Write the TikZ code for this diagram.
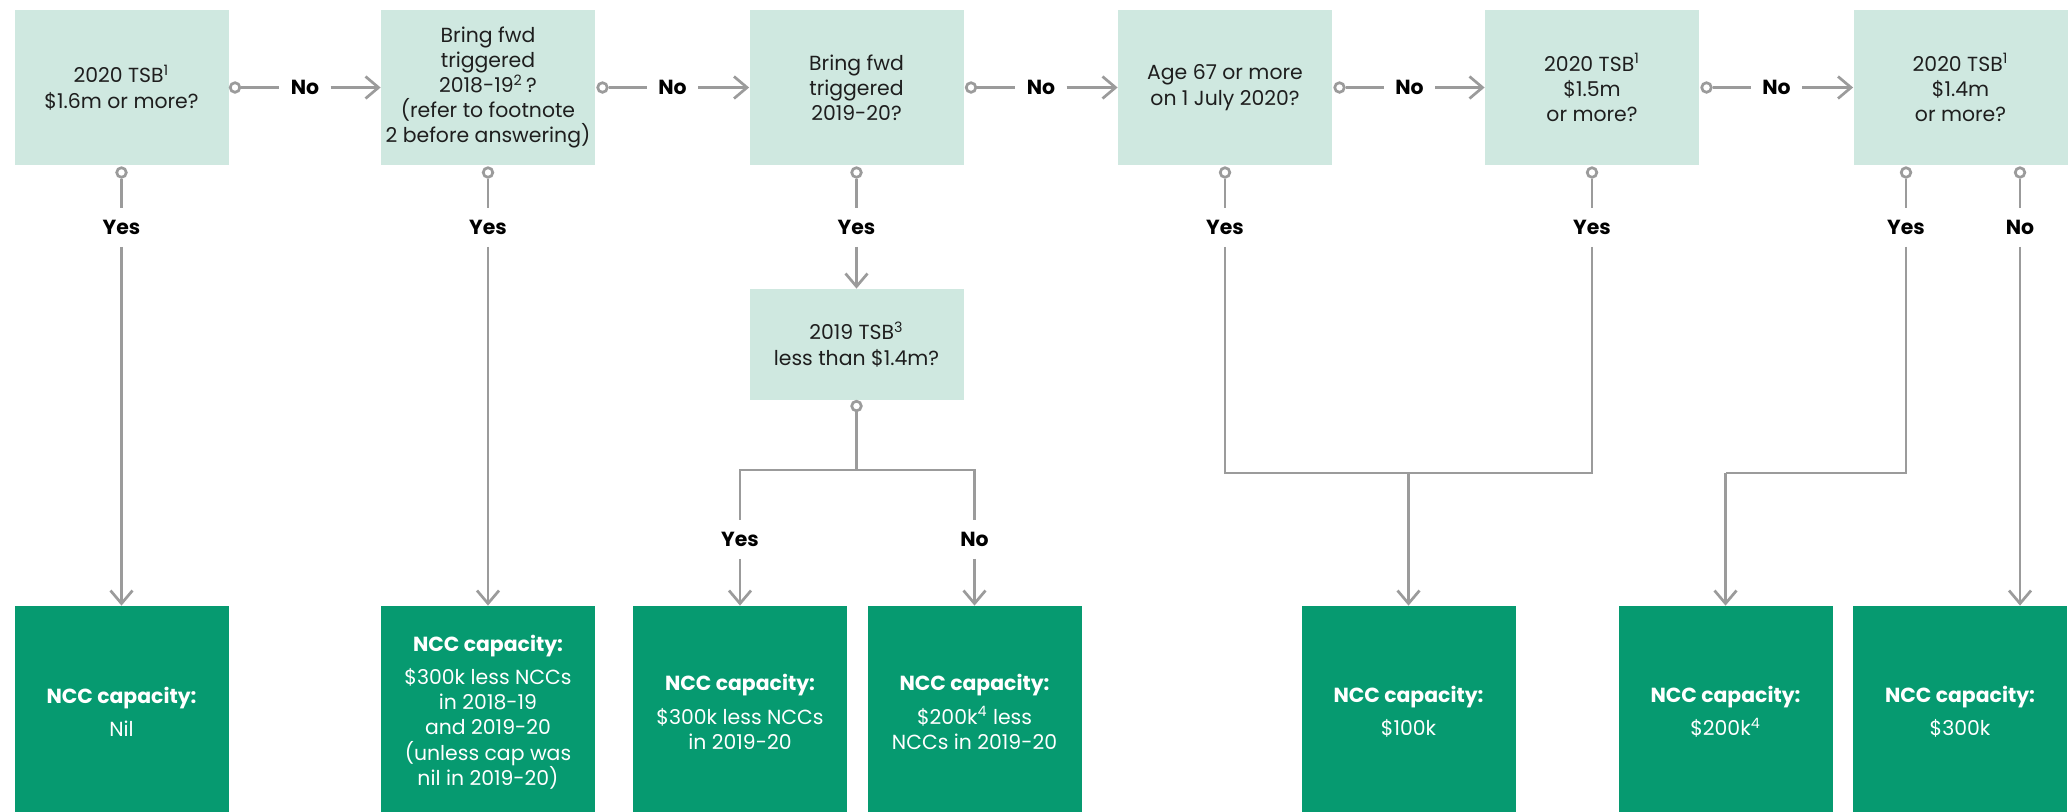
\documentclass[tikz,border=0pt]{standalone}
\usepackage{fontspec}
\setmainfont{Poppins}
\usetikzlibrary{arrows.meta}
\definecolor{lightbox}{HTML}{CFE8E0}
\definecolor{darkbox}{HTML}{069A70}
\definecolor{lineg}{HTML}{9B9B9B}
\definecolor{txt}{HTML}{1E1E1E}
\begin{document}
\begin{tikzpicture}[x=0.5pt,y=-0.5pt,
  qbox/.style={fill=lightbox, minimum width=107pt, minimum height=77.5pt, inner sep=0pt, align=center, text=txt, font=\fontsize{10.2pt}{12.6pt}\selectfont},
  abox/.style={fill=darkbox, minimum width=107pt, minimum height=106pt, inner sep=0pt, align=center, text=white, font=\fontsize{10.2pt}{12.6pt}\selectfont},
  dot/.style={circle, draw=lineg, fill=white, line width=1.35pt, minimum size=4.8pt, inner sep=0pt},
  lbl/.style={font=\bfseries\fontsize{10.2pt}{12pt}\selectfont, text=black, inner xsep=5.5pt, inner ysep=0pt, text height=7.2pt, text depth=0pt, minimum height=19pt},
  wire/.style={draw=lineg, line width=1.35pt},
  arr/.style={-{Straight Barb[length=6.5pt,width=11pt]}}]
\fill[white] (0,0) rectangle (2072,811);
\useasboundingbox (0,0) rectangle (2072,811);

% question boxes
\node[qbox] (qA) at (121.5,87.5) {2020 TSB\textsuperscript{1}\\\$1.6m or more?};
\node[qbox] (qB) at (488,87.5) {Bring fwd\\triggered\\2018-19\textsuperscript{2}\,?\\(refer to footnote\\2 before answering)};
\node[qbox] (qC) at (856.5,87.5) {Bring fwd\\triggered\\2019-20?};
\node[qbox] (qD) at (1225,87.5) {Age 67 or more\\on 1 July 2020?};
\node[qbox] (qE) at (1592,87.5) {2020 TSB\textsuperscript{1}\\\$1.5m\\or more?};
\node[qbox] (qF) at (1960.5,87.5) {2020 TSB\textsuperscript{1}\\\$1.4m\\or more?};
\node[qbox, minimum height=55.5pt] (qC2) at (856.5,344.5) {2019 TSB\textsuperscript{3}\\less than \$1.4m?};

% result boxes
\node[abox] (rNil) at (121.5,712) {\textbf{NCC capacity:}\\[4pt]Nil};
\node[abox] (rB) at (488,712) {\textbf{NCC capacity:}\\[4pt]\$300k less NCCs\\in 2018-19\\and 2019-20\\(unless cap was\\nil in 2019-20)};
\node[abox] (rY) at (740,712) {\textbf{NCC capacity:}\\[4pt]\$300k less NCCs\\in 2019-20};
\node[abox] (rN) at (974.5,712) {\textbf{NCC capacity:}\\[4pt]\$200k\textsuperscript{4} less\\NCCs in 2019-20};
\node[abox] (r100) at (1408.5,712) {\textbf{NCC capacity:}\\[4pt]\$100k};
\node[abox] (r200) at (1725.5,712) {\textbf{NCC capacity:}\\[4pt]\$200k\textsuperscript{4}};
\node[abox] (r300) at (1960,712) {\textbf{NCC capacity:}\\[4pt]\$300k};

% horizontal "No" connectors
\foreach \s/\t/\dx/\lx in {qA/qB/235/305, qB/qC/602.5/672.5, qC/qD/971/1041, qD/qE/1339.5/1409.5, qE/qF/1706.5/1776.5}{
  \node[dot] (h\s) at (\dx,87.5) {};
  \node[lbl] (l\s) at (\lx,87.5) {No};
  \draw[wire] (h\s) -- (l\s);
  \draw[wire,arr] (l\s) -- (\t);
}

% vertical "Yes" connectors from top boxes
\foreach \n/\x/\t in {A/121.5/Yes, B/488/Yes, C/856.5/Yes, D/1225/Yes, E/1592/Yes, F/1906/Yes, G/2020/No}{
  \node[dot] (v\n) at (\x,172.5) {};
  \node[lbl] (y\n) at (\x,227.5) {\t};
  \draw[wire] (v\n) -- (y\n);
}
\draw[wire,arr] (yA) -- (rNil);
\draw[wire,arr] (yB) -- (rB);
\draw[wire,arr] (yC) -- (qC2);

\coordinate (mDE) at (1408.5,473);
\draw[wire] (yD) |- (mDE);
\draw[wire] (yE) |- (mDE);
\draw[wire,arr] (mDE) -- (r100);

\coordinate (mF) at (1725.5,473);
\draw[wire] (yF) |- (mF);
\draw[wire,arr] (mF) -- (r200);
\draw[wire,arr] (yG) -- (yG |- r300.north);

% second-level question
\node[dot] (vC2) at (856.5,406) {};
\coordinate (mC2) at (856.5,470);
\node[lbl] (yC2) at (740,539.5) {Yes};
\node[lbl] (nC2) at (974.5,539.5) {No};
\draw[wire] (vC2) -- (mC2);
\draw[wire] (mC2) -| (yC2);
\draw[wire] (mC2) -| (nC2);
\draw[wire,arr] (yC2) -- (rY);
\draw[wire,arr] (nC2) -- (rN);
\end{tikzpicture}
\end{document}
